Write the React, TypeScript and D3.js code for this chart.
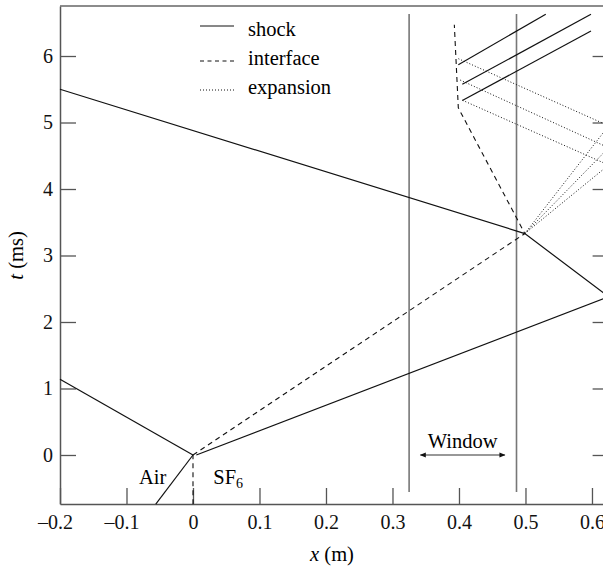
import { useRef, useEffect } from "react";
import * as d3 from "d3";

type Pt = [number, number];

// x in metres, t in milliseconds
const xTicks = [-0.2, -0.1, 0, 0.1, 0.2, 0.3, 0.4, 0.5, 0.6];
const tTicks = [0, 1, 2, 3, 4, 5, 6];

const shockPaths: Pt[][] = [
  [[0, 0], [-0.2, 1.14]],
  [[0, 0], [-0.056, -0.74]],
  [[0.005, 0], [0.625, 2.38]],
  [[0.625, 2.38], [0.499, 3.33], [-0.2, 5.5]],
  [[0.399, 5.87], [0.5305, 6.627]],
  [[0.405, 5.574], [0.5985, 6.627]],
  [[0.405, 5.33], [0.5985, 6.376]],
];

const interfacePaths: Pt[][] = [
  [[0, -0.74], [0, 0]],
  [[0, 0], [0.499, 3.33], [0.399, 5.22], [0.393, 6.47]],
];

const expansionPaths: Pt[][] = [
  [[0.499, 3.33], [0.625, 4.95], [0.399, 5.96]],
  [[0.499, 3.33], [0.625, 4.62], [0.4015, 5.64]],
  [[0.499, 3.33], [0.625, 4.36], [0.404, 5.34]],
];

const windowEdges = [0.325, 0.4865];
const windowRange: Pt = [-0.556, 6.63];
const windowArrow: Pt = [0.342, 0.469];

const legendItems = [
  { label: "shock", dash: null as string | null, y: 26, base: 36 },
  { label: "interface", dash: "4,3.5", y: 61, base: 65 },
  { label: "expansion", dash: "1,2", y: 90, base: 94 },
];

function App() {
  const svgRef = useRef<SVGSVGElement>(null);

  useEffect(() => {
    const w = 603;
    const h = 568;
    const left = 60;
    const right = 608.6;
    const top = 6;
    const bottom = 504;
    const font = "'Liberation Serif', 'Times New Roman', serif";

    const svg = d3.select(svgRef.current);
    svg.selectAll("*").remove();
    svg.attr("width", w).attr("height", h);

    const x = d3.scaleLinear().domain([-0.2, 0.625]).range([left, right]);
    const y = d3.scaleLinear().domain([-0.737, 6.752]).range([bottom, top]);

    const fmt = (v: number) =>
      v === 0 ? "0" : (v < 0 ? "\u2013" : "") + Math.abs(v).toFixed(1);

    // arrow marker for the window span
    svg
      .append("defs")
      .append("marker")
      .attr("id", "arr")
      .attr("viewBox", "0 0 10 10")
      .attr("refX", 9)
      .attr("refY", 5)
      .attr("markerWidth", 9)
      .attr("markerHeight", 6)
      .attr("markerUnits", "userSpaceOnUse")
      .attr("orient", "auto-start-reverse")
      .append("path")
      .attr("d", "M0,1L10,5L0,9z")
      .attr("fill", "#111");

    // axes, ticks pointing in
    const axisColor = "#555";
    const gx = svg
      .append("g")
      .attr("transform", `translate(0, ${bottom})`)
      .call(d3.axisBottom(x).tickValues(xTicks).tickSize(-16).tickSizeOuter(0).tickPadding(11).tickFormat((d) => fmt(+d)));
    // keep the digits centred on the tick, the minus hangs left
    gx.selectAll<SVGTextElement, number>("text").attr("dx", (d) => (d < 0 ? -5 : 0));
    const gy = svg
      .append("g")
      .attr("transform", `translate(${left}, 0)`)
      .call(d3.axisLeft(y).tickValues(tTicks).tickSize(-16).tickSizeOuter(0).tickPadding(7).tickFormat((d) => String(d)));
    const gr = svg
      .append("g")
      .attr("transform", `translate(${right}, 0)`)
      .call(d3.axisRight(y).tickValues(tTicks).tickSize(-16).tickSizeOuter(0).tickFormat(() => ""));
    [gx, gy, gr].forEach((g) => {
      g.attr("color", axisColor).attr("font-family", font).attr("font-size", 20);
      g.selectAll("line").attr("stroke-width", 1.3);
      g.select(".domain").attr("stroke-width", 1.5);
      g.selectAll("text").attr("fill", "#111");
    });
    svg
      .append("line")
      .attr("x1", left)
      .attr("x2", right)
      .attr("y1", top)
      .attr("y2", top)
      .attr("stroke", "#666")
      .attr("stroke-width", 1.5);

    // window edges
    svg
      .selectAll(".win")
      .data(windowEdges)
      .enter()
      .append("line")
      .attr("x1", (d) => x(d))
      .attr("x2", (d) => x(d))
      .attr("y1", y(windowRange[0]))
      .attr("y2", y(windowRange[1]))
      .attr("stroke", "#777")
      .attr("stroke-width", 1.6);

    const line = d3
      .line<Pt>()
      .x((d) => x(d[0]))
      .y((d) => y(d[1]));

    const drawSet = (paths: Pt[][], dash: string | null, width: number) => {
      svg
        .append("g")
        .selectAll("path")
        .data(paths)
        .enter()
        .append("path")
        .attr("d", (d) => line(d))
        .attr("fill", "none")
        .attr("stroke", "#111")
        .attr("stroke-width", width)
        .attr("stroke-dasharray", dash);
    };
    drawSet(expansionPaths, "1,2", 1);
    drawSet(interfacePaths, "5,4", 1.1);
    drawSet(shockPaths, null, 1.2);

    // window arrow and label
    svg
      .append("line")
      .attr("x1", x(windowArrow[0]))
      .attr("x2", x(windowArrow[1]))
      .attr("y1", y(0))
      .attr("y2", y(0))
      .attr("stroke", "#333")
      .attr("stroke-width", 1.2)
      .attr("marker-start", "url(#arr)")
      .attr("marker-end", "url(#arr)");
    svg
      .append("text")
      .attr("x", (x(windowArrow[0]) + x(windowArrow[1])) / 2)
      .attr("y", y(0) - 6.5)
      .attr("text-anchor", "middle")
      .attr("font-family", font)
      .attr("font-size", 20.5)
      .text("Window");

    // gas labels
    svg
      .append("text")
      .attr("x", x(-0.0812))
      .attr("y", y(-0.44))
      .attr("font-family", font)
      .attr("font-size", 20.5)
      .text("Air");
    const sf = svg
      .append("text")
      .attr("x", x(0.0305))
      .attr("y", y(-0.44))
      .attr("font-family", font)
      .attr("font-size", 20.5);
    sf.append("tspan").text("SF");
    sf.append("tspan").attr("dy", 4).attr("font-size", 14).text("6");

    // legend
    const lg = svg.append("g").attr("font-family", font).attr("font-size", 20.5);
    legendItems.forEach((it) => {
      lg.append("line")
        .attr("x1", 200)
        .attr("x2", 234)
        .attr("y1", it.y)
        .attr("y2", it.y)
        .attr("stroke", "#111")
        .attr("stroke-width", 1)
        .attr("stroke-dasharray", it.dash);
      lg.append("text").attr("x", 248).attr("y", it.base).text(it.label);
    });

    // axis titles
    const xt = svg
      .append("text")
      .attr("x", 332)
      .attr("y", 561)
      .attr("text-anchor", "middle")
      .attr("font-family", font)
      .attr("font-size", 20.5);
    xt.append("tspan").attr("font-style", "italic").text("x");
    xt.append("tspan").text(" (m)");
    const yt = svg
      .append("text")
      .attr("transform", `translate(23, ${y(3)}) rotate(-90)`)
      .attr("text-anchor", "middle")
      .attr("font-family", font)
      .attr("font-size", 20.5);
    yt.append("tspan").attr("font-style", "italic").text("t");
    yt.append("tspan").text(" (ms)");
  }, []);

  return (
    <svg
      ref={svgRef}
      style={{ position: "absolute", left: 0, top: 0, display: "block", background: "#fff" }}
    ></svg>
  );
}

export default App;
